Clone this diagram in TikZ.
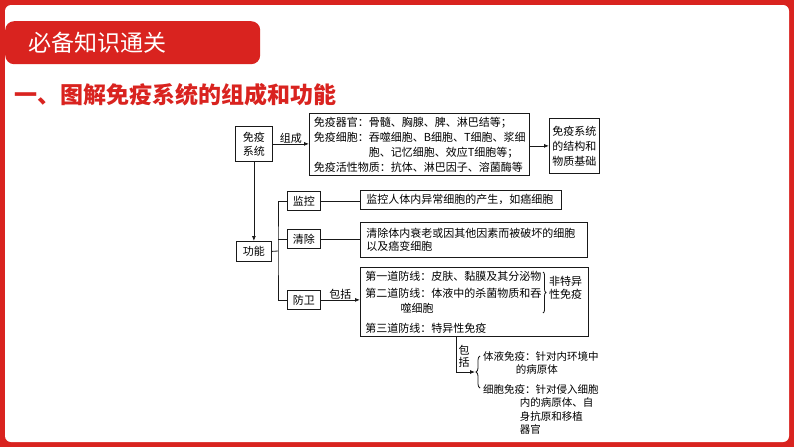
\documentclass[tikz,border=0pt]{standalone}
\usepackage{fontspec}
\setmainfont{Noto Sans CJK SC}
\usetikzlibrary{arrows.meta,decorations.pathreplacing}
\definecolor{brand}{RGB}{217,35,31}
\definecolor{ink}{RGB}{25,25,25}
\tikzset{
  box/.style={draw=ink, line width=0.8pt, inner sep=1pt, anchor=north west, font=\fontsize{11}{15}\selectfont},
  txtbox/.style={box, align=left, inner ysep=3pt},
  wire/.style={draw=ink, line width=0.8pt},
  arr/.style={wire, -{Latex[length=5pt,width=4pt]}},
  lbl/.style={inner sep=0.5pt, font=\fontsize{11}{12}\selectfont},
  bracket/.style={wire, decorate, decoration={brace, amplitude=3pt}}
}
\begin{document}
\begin{tikzpicture}[x=1pt,y=-1pt]
\useasboundingbox (0,0) rectangle (794,447);
% Frame
\fill[brand] (0,0) rectangle (794,447);
\fill[white,rounded corners=6pt] (5,5) rectangle (789,442);

% Title bar and heading
\node[fill=brand, rounded corners=9pt, anchor=north west, minimum width=255pt, minimum height=43pt,
      text width=209pt, inner xsep=23pt, inner ysep=0pt, text=white, font=\fontsize{23}{23}\selectfont] (tag) at (5,21) {\raisebox{-2pt}{必备知识通关}};
\node[anchor=west, inner sep=0pt, text=brand, font=\fontsize{23}{23}\selectfont\bfseries] (head) at (14,95) {一、图解免疫系统的组成和功能};

% Composition
\node[box, align=center, minimum width=37pt, minimum height=35pt, font=\fontsize{11}{14}\selectfont] (sys) at (235,126) {免疫\\系统};
\node[txtbox, minimum height=62pt, text width=211pt, inner xsep=4.5pt] (comp) at (309,113)
  {免疫器官：骨髓、胸腺、脾、淋巴结等；\\免疫细胞：吞噬细胞、B细胞、T细胞、浆细\\\hspace*{5em}胞、记忆细胞、效应T细胞等；\\免疫活性物质：抗体、淋巴因子、溶菌酶等};
\node[box, align=center, minimum width=50pt, minimum height=55pt] (base) at (549,118) {免疫系统\\的结构和\\物质基础};

\draw[arr] (sys.east) -- (sys.east -| comp.west) node[midway, above, lbl] (form) {组成};
\draw[arr] (comp.east |- base.west) -- (base.west);

% Function
\node[box, minimum width=35pt, minimum height=20pt] (func) at (236,241) {功能};
\node[box, minimum width=33pt, minimum height=19pt] (mon) at (287,191) {监控};
\node[box, minimum width=33pt, minimum height=19pt] (clr) at (287,229) {清除};
\node[box, minimum width=33pt, minimum height=19pt] (def) at (287,290) {防卫};

\node[txtbox, text width=189pt, inner xsep=6pt, inner ysep=1pt, minimum height=19pt] (monT) at (360,190) {监控人体内异常细胞的产生，如癌细胞};
\node[txtbox, text width=215pt, inner xsep=6pt, minimum height=35pt, font=\fontsize{11}{13}\selectfont] (clrT) at (360,222)
  {清除体内衰老或因其他因素而被破坏的细胞\\以及癌变细胞};
\node[txtbox, text width=218pt, inner xsep=5pt, minimum height=69pt] (defT) at (360,267)
  {第一道防线：皮肤、黏膜及其分泌物\\[2pt]第二道防线：体液中的杀菌物质和吞\\\hspace*{3.2em}噬细胞\\[5pt]第三道防线：特异性免疫};

\coordinate (fork) at (278,251);
\draw[arr] (sys.south) -- (func.north);
\draw[wire] (func.east) -- (fork);
\draw[wire] (mon.west) -| (fork) |- (def.west);
\draw[wire] (clr.west) -- (clr.west -| fork);
\draw[wire] (mon.east) -- (mon.east -| monT.west);
\draw[wire] (clr.east) -- (clr.east -| clrT.west);
\draw[arr] (def.east) -- (def.east -| defT.west) node[midway, above, lbl] (incl) {包括};

% Non-specific immunity
\coordinate (nsTop) at (543,272);
\coordinate (nsBot) at (543,313);
\draw[bracket] (nsTop) -- (nsBot);
\node[anchor=west, inner sep=0pt, align=left, font=\fontsize{11}{13}\selectfont] (nsp) at (549,288) {非特异\\性免疫};

% Specific immunity
\coordinate (fork2) at (475,372);
\node[lbl, align=center] (incl2) at (464,356) {包\\括};
\draw[arr] ([xshift=-18pt]defT.south) |- (fork2);
\draw[bracket, decoration={amplitude=4pt}] (480,388) -- (480,356);
\node[anchor=north west, inner sep=0pt, align=left, font=\fontsize{10.5}{13.5}\selectfont] (hum) at (483,351)
  {体液免疫：针对内环境中\\\hspace*{3.1em}的病原体};
\node[anchor=north west, inner sep=0pt, align=left, font=\fontsize{10.5}{13.5}\selectfont] (cel) at (483,384)
  {细胞免疫：针对侵入细胞\\\hspace*{3.5em}内的病原体、自\\\hspace*{3.5em}身抗原和移植\\\hspace*{3.5em}器官};
\end{tikzpicture}
\end{document}
